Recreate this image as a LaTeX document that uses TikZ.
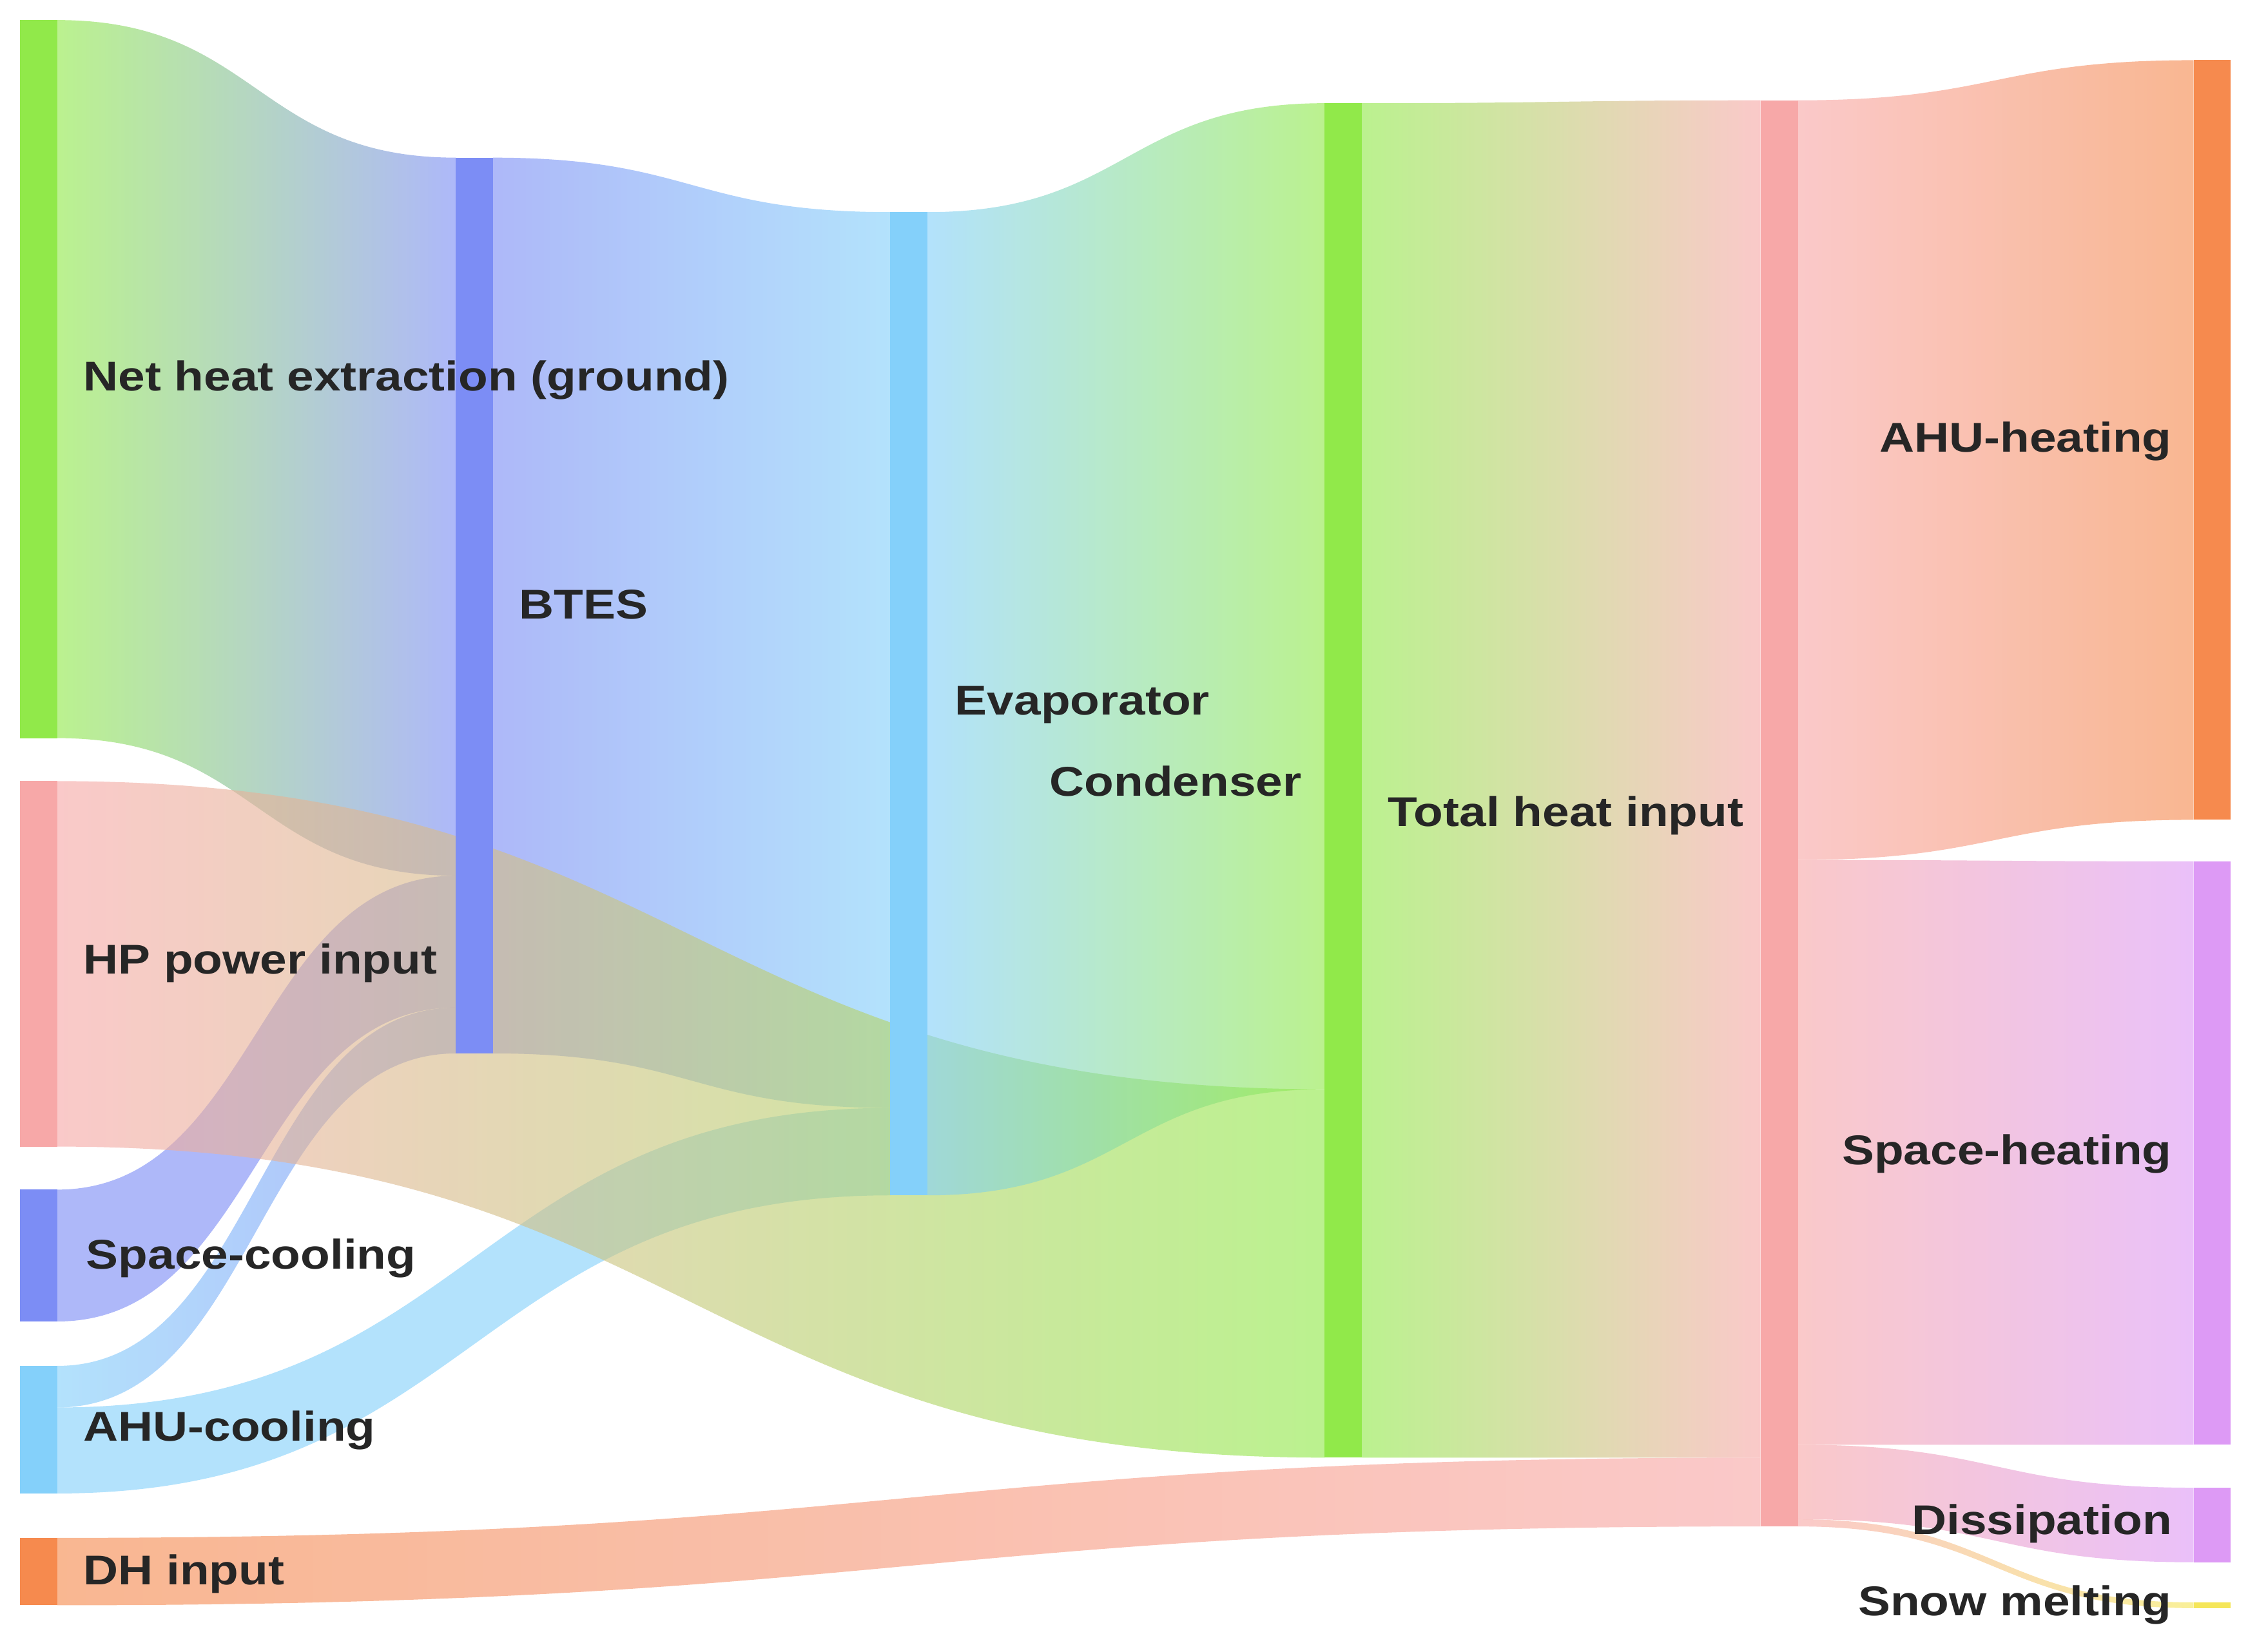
\documentclass[tikz,border=0pt]{standalone}
\usepackage{fontspec}
\setmainfont{Liberation Sans}[FakeStretch=1.16]
\definecolor{cG}{HTML}{91E94A}
\definecolor{cP}{HTML}{F7A8A8}
\definecolor{cB}{HTML}{7C8DF5}
\definecolor{cL}{HTML}{84D0FA}
\definecolor{cO}{HTML}{F68A4E}
\definecolor{cV}{HTML}{DD9AF5}
\definecolor{cY}{HTML}{F5E65A}
\newcommand\sflow[8]{%
\shade[left color=#7, right color=#8, fill opacity=.62] (#1,#2) .. controls ({(#1+#4)/2},#2) and ({(#1+#4)/2},#5) .. (#4,#5) -- (#4,#6) .. controls ({(#1+#4)/2},#6) and ({(#1+#4)/2},#3) .. (#1,#3) -- cycle;}
\begin{document}
\begin{tikzpicture}[x=1pt,y=-1pt,
  bar/.style={draw=none,inner sep=0pt,minimum width=26pt,rectangle},
  lbl/.style={font=\fontsize{29}{34}\selectfont\bfseries,inner sep=0pt,text=black!85}]
\useasboundingbox (0,0) rectangle (1568,1152.6);
% flows
\sflow{40}{14}{515}{318}{110}{611}{cG}{cB}
\sflow{40}{830}{922}{318}{611}{703}{cB}{cB}
\sflow{40}{953}{982}{318}{703}{735}{cL}{cB}
\sflow{344}{110}{735}{621}{148}{773}{cB}{cL}
\sflow{40}{982}{1042}{621}{773}{834}{cL}{cL}
\sflow{40}{545}{800}{924}{760}{1017}{cP}{cG}
\sflow{647}{148}{834}{924}{72}{760}{cL}{cG}
\sflow{950}{72}{1017}{1228}{70}{1017}{cG}{cP}
\sflow{40}{1073}{1120}{1228}{1017}{1065}{cO}{cP}
\sflow{1254}{70}{600}{1530}{42}{572}{cP}{cO}
\sflow{1254}{600}{1008}{1530}{601}{1008}{cP}{cV}
\sflow{1254}{1008}{1060}{1530}{1038}{1090}{cP}{cV}
\sflow{1254}{1060}{1065}{1530}{1118}{1122}{cP}{cY}
% bars
\node[bar,fill=cG,minimum height=501pt] (net) at (27,264.5) {};
\node[bar,fill=cP,minimum height=255pt] (hp) at (27,672.5) {};
\node[bar,fill=cB,minimum height=92pt] (sc) at (27,876) {};
\node[bar,fill=cL,minimum height=89pt] (ac) at (27,997.5) {};
\node[bar,fill=cO,minimum height=47pt] (dh) at (27,1096.5) {};
\node[bar,fill=cB,minimum height=625pt] (btes) at (331,422.5) {};
\node[bar,fill=cL,minimum height=686pt] (evap) at (634,491) {};
\node[bar,fill=cG,minimum height=945pt] (cond) at (937,544.5) {};
\node[bar,fill=cP,minimum height=995pt] (tot) at (1241,567.5) {};
\node[bar,fill=cO,minimum height=530pt] (ahuh) at (1543,307) {};
\node[bar,fill=cV,minimum height=407pt] (sh) at (1543,804.5) {};
\node[bar,fill=cV,minimum height=52pt] (dis) at (1543,1064) {};
\node[bar,fill=cY,minimum height=4pt] (snow) at (1543,1120) {};
% labels
\node[lbl,anchor=west] at (58,265) {Net heat extraction (ground)};
\node[lbl,anchor=west] at (58,672) {HP power input};
\node[lbl,anchor=west] at (60,878) {Space-cooling};
\node[lbl,anchor=west] at (58,998) {AHU-cooling};
\node[lbl,anchor=west] at (58,1098) {DH input};
\node[lbl,anchor=west] at (362,422) {BTES};
\node[lbl,anchor=west] at (666,492) {Evaporator};
\node[lbl,anchor=east] at (908,545) {Condenser};
\node[lbl,anchor=west] at (968,569) {Total heat input};
\node[lbl,anchor=east] at (1515,308) {AHU-heating};
\node[lbl,anchor=east] at (1515,805) {Space-heating};
\node[lbl,anchor=east] at (1515,1063) {Dissipation};
\node[lbl,anchor=east] at (1515,1120) {Snow melting};
\end{tikzpicture}
\end{document}
